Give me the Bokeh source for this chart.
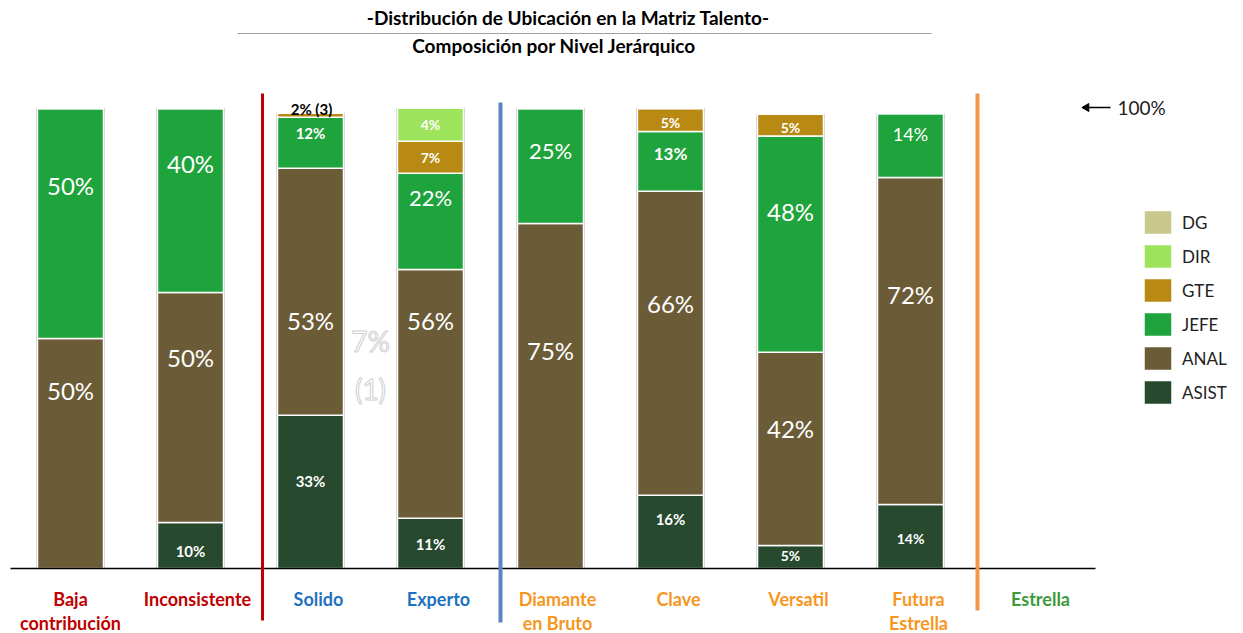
from bokeh.plotting import figure
from bokeh.models import Range1d, ColumnDataSource, Legend, LegendItem
from bokeh.core.properties import value
from bokeh.embed import file_html
from bokeh.resources import INLINE

# ---------------- data ----------------
categories = ["Baja\ncontribución", "Inconsistente", "Solido", "Experto",
              "Diamante\nen Bruto", "Clave", "Versatil", "Futura\nEstrella", "Estrella"]
levels = ["ASIST", "ANAL", "JEFE", "GTE", "DIR", "DG"]
ASIST = [0.00, 0.10, 0.333, 0.109, 0.00, 0.159, 0.05, 0.139, 0.0]
ANAL  = [0.50, 0.50, 0.537, 0.541, 0.75, 0.661, 0.42, 0.711, 0.0]
JEFE  = [0.50, 0.40, 0.111, 0.209, 0.25, 0.130, 0.47, 0.139, 0.0]
GTE   = [0.00, 0.00, 0.009, 0.070, 0.00, 0.050, 0.048, 0.0, 0.0]
DIR   = [0.00, 0.00, 0.000, 0.072, 0.00, 0.000, 0.0, 0.0, 0.0]
DG    = [0.00] * 9
series = {"ASIST": ASIST, "ANAL": ANAL, "JEFE": JEFE, "GTE": GTE, "DIR": DIR, "DG": DG}

# data labels (category index, level, text)
lab_cat   = [0, 0, 1, 1, 1, 2, 2, 2, 3, 3, 3, 3, 3, 4, 4, 5, 5, 5, 5, 6, 6, 6, 6, 7, 7, 7]
lab_level = ["ANAL", "JEFE", "ASIST", "ANAL", "JEFE", "ASIST", "ANAL", "JEFE",
             "ASIST", "ANAL", "JEFE", "GTE", "DIR", "ANAL", "JEFE",
             "ASIST", "ANAL", "JEFE", "GTE", "ASIST", "ANAL", "JEFE", "GTE",
             "ASIST", "ANAL", "JEFE"]
lab_text  = ["50%", "50%", "10%", "50%", "40%", "33%", "53%", "12%",
             "11%", "56%", "22%", "7%", "4%", "75%", "25%",
             "16%", "66%", "13%", "5%", "5%", "42%", "48%", "5%",
             "14%", "72%", "14%"]
# label placement (pixel row in the picture) and styles
lab_py    = [390, 185, 550, 357, 163, 480, 320, 132,
             543, 320, 197, 157, 124, 350, 150,
             518, 303, 153, 122, 555, 428, 211, 127,
             538, 294, 133]
lab_size  = ["24px", "24px", "15px", "24px", "24px", "15px", "24px", "15px",
             "15px", "24px", "22px", "14px", "14px", "24px", "22px",
             "15px", "24px", "17px", "14px", "14px", "24px", "24px", "14px",
             "14px", "24px", "18px"]
lab_style = ["normal", "normal", "bold", "normal", "normal", "bold", "normal", "bold",
             "bold", "normal", "normal", "bold", "bold", "normal", "normal",
             "bold", "normal", "bold", "bold", "bold", "normal", "normal", "bold",
             "bold", "normal", "normal"]

colors = {"ASIST": "#274a2f", "ANAL": "#6b5c37", "JEFE": "#1fa33c",
          "GTE": "#b88a14", "DIR": "#9ee35c", "DG": "#c8c88c"}
cat_colors = ["#c00000", "#c00000", "#1f72c0", "#1f72c0",
              "#f7961e", "#f7961e", "#f7961e", "#f7961e", "#3d9a3d"]
cat_px = [70, 197, 318, 438, 557, 678, 798, 918, 1040]  # label centres (pixels)

W, H = 1243, 633
# pixel <-> data mapping helpers for annotations
X0, DX = 70.0, 120.0
Y0, DY = 568.0, 460.0
def X(px): return (px - X0) / DX
def Y(py): return (Y0 - py) / DY

FONT = "Lato"

p = figure(width=W, height=H, output_backend="svg", toolbar_location=None,
           x_range=Range1d(X(0), X(W)), y_range=Range1d(Y(H), Y(0)),
           min_border=0, outline_line_color=None, background_fill_color="white",
           border_fill_color="white")
p.axis.visible = False
p.grid.visible = False

xs = list(range(len(categories)))
data = {"x": xs}
data.update(series)
src = ColumnDataSource(data)

# bar outlines
totals = [sum(series[l][i] for l in levels) for i in xs]
p.vbar(x=xs, top=totals, bottom=0, width=0.565, fill_color="white",
       line_color="#c8c8c8", line_width=1)

rends = p.vbar_stack(levels, x="x", width=0.55, source=src,
                     color=[colors[l] for l in levels],
                     line_color="white", line_width=1.5)

# data labels
lsrc = ColumnDataSource(dict(x=lab_cat, y=[Y(v) for v in lab_py], t=lab_text,
                             s=lab_size, st=lab_style))
p.text(x="x", y="y", text="t", source=lsrc, text_align="center",
       text_baseline="middle", text_color="white", text_font=value(FONT),
       text_font_size="s", text_font_style="st")

# small label above Solido
p.text(x=[X(311)], y=[Y(108)], text=["2% (3)"], text_align="center",
       text_baseline="middle", text_color="black", text_font=value(FONT),
       text_font_size="15px", text_font_style="bold")
# faint label between Solido and Experto
p.text(x=[X(370), X(370)], y=[Y(340), Y(388)], text=["7%", "(1)"],
       text_align="center", text_baseline="middle", text_color="white",
       text_outline_color="#cfcfcf",
       text_font=value(FONT), text_font_size="28px")

# axis line
p.segment(x0=[X(10)], y0=[0], x1=[X(1095)], y1=[0], line_color="black", line_width=1.5)

# separators
p.segment(x0=[X(262), X(500), X(977)], y0=[Y(620), Y(622), Y(610)],
          x1=[X(262), X(500), X(977)], y1=[Y(93), Y(102), Y(93)],
          line_color=["#c00000", "#5b86c2", "#f79646"], line_width=[3, 4, 4])

# category labels
cx, cy, ct, cc = [], [], [], []
for i, name in enumerate(categories):
    for j, part in enumerate(name.split("\n")):
        cx.append(X(cat_px[i]))
        cy.append(Y(598 + 24 * j))
        ct.append(part)
        cc.append(cat_colors[i])
p.text(x=cx, y=cy, text=ct, text_color=cc, text_align="center",
       text_baseline="middle", text_font=value(FONT), text_font_size="18px",
       text_font_style="bold")

# titles
p.text(x=[X(570), X(556)], y=[Y(17), Y(45)],
       text=["-Distribución de Ubicación  en la Matriz Talento-",
             "Composición  por Nivel Jerárquico"],
       text_align="center", text_baseline="middle", text_color="black",
       text_font=value(FONT), text_font_size="19px", text_font_style="bold")
p.segment(x0=[X(237)], y0=[Y(33)], x1=[X(931)], y1=[Y(33)],
          line_color="#a0a0a0", line_width=1)

# 100% marker
p.segment(x0=[X(1110)], y0=[Y(107)], x1=[X(1086)], y1=[Y(107)],
          line_color="black", line_width=1.5)
p.scatter(x=[X(1086)], y=[Y(107)], marker="triangle", angle=1.5708,
          size=8, color="black")
p.text(x=[X(1117)], y=[Y(107)], text=["100%"], text_align="left",
       text_baseline="middle", text_color="#222222", text_font=value(FONT),
       text_font_size="19px")

# legend
items = [LegendItem(label=l, renderers=[r]) for l, r in zip(levels, rends)][::-1]
leg = Legend(items=items, location=(1140, 226), glyph_width=35, glyph_height=30,
             spacing=4, padding=10, margin=0, label_standoff=7,
             label_text_font=FONT, label_text_font_size="17px",
             label_text_color="#222222", border_line_color=None,
             background_fill_alpha=0)
p.add_layout(leg)

open("out.html", "w").write(file_html(p, INLINE))
